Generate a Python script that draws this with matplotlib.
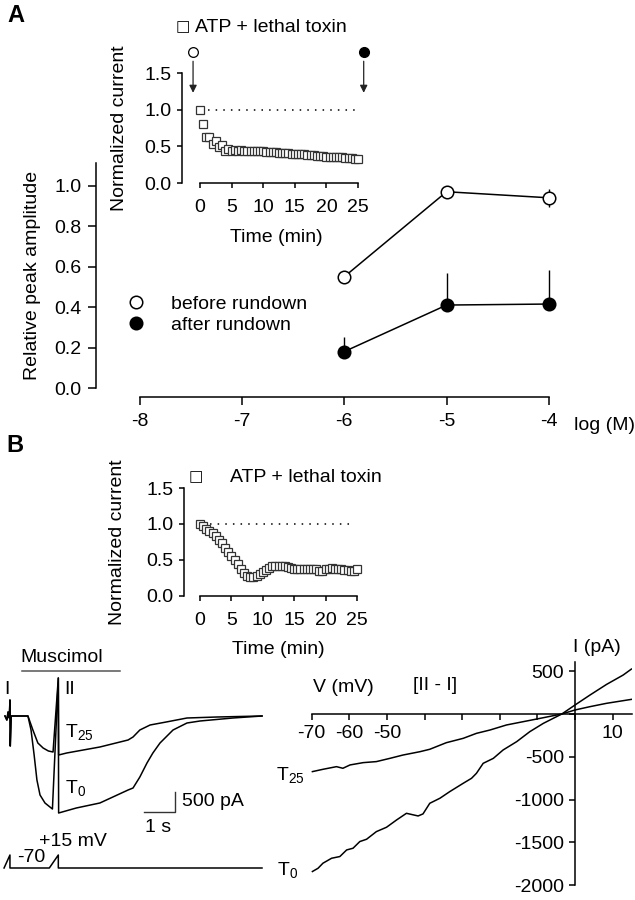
import matplotlib
matplotlib.use("Agg")
import matplotlib.pyplot as plt
from matplotlib.ticker import FormatStrFormatter

plt.rcParams["font.family"] = ["Liberation Sans", "DejaVu Sans"]
plt.rcParams["axes.unicode_minus"] = False
plt.rcParams["mathtext.fontset"] = "custom"
plt.rcParams["mathtext.rm"] = "Liberation Sans"
plt.rcParams["mathtext.default"] = "regular"

# Panel A: concentration dependence
log_conc = [-6, -5, -4]
before = [0.55, 0.97, 0.94]
before_err = [0.0, 0.0, 0.045]
after = [0.18, 0.41, 0.415]
after_err_up = [0.07, 0.16, 0.17]
conc_ticks = [-8, -7, -6, -5, -4]

# Insets: normalized current vs time (min)
time_min = [0, 0.5, 1, 1.5, 2, 2.5, 3, 3.5, 4, 4.5, 5, 5.5, 6, 6.5, 7, 7.5, 8, 8.5, 9, 9.5,
            10, 10.5, 11, 11.5, 12, 12.5, 13, 13.5, 14, 14.5, 15, 15.5, 16, 16.5, 17, 17.5,
            18, 18.5, 19, 19.5, 20, 20.5, 21, 21.5, 22, 22.5, 23, 23.5, 24, 24.5, 25]
a_norm = [1.00, 0.81, 0.63, 0.63, 0.53, 0.57, 0.49, 0.52, 0.43, 0.46, 0.44, 0.45, 0.44, 0.45,
          0.44, 0.44, 0.44, 0.43, 0.43, 0.43, 0.43, 0.42, 0.42, 0.42, 0.42, 0.41, 0.41, 0.41,
          0.41, 0.40, 0.40, 0.39, 0.39, 0.39, 0.38, 0.38, 0.38, 0.37, 0.37, 0.37, 0.36, 0.36,
          0.36, 0.35, 0.35, 0.35, 0.34, 0.34, 0.34, 0.33, 0.33]
a_err = [0, 0, 0, 0, 0, 0, 0, 0, 0.01, 0.01, 0.02, 0.02, 0.02, 0.02, 0.03, 0.03, 0.03, 0.03,
         0.03, 0.03, 0.03, 0.03, 0.03, 0.04, 0.04, 0.04, 0.04, 0.04, 0.04, 0.04, 0.04, 0.04,
         0.04, 0.04, 0.04, 0.04, 0.04, 0.04, 0.04, 0.04, 0.04, 0.04, 0.04, 0.04, 0.04, 0.04,
         0.04, 0.04, 0.04, 0.04, 0.04]
b_norm = [1.00, 0.97, 0.93, 0.90, 0.87, 0.83, 0.78, 0.73, 0.67, 0.61, 0.56, 0.50, 0.44, 0.37,
          0.32, 0.28, 0.26, 0.26, 0.28, 0.31, 0.34, 0.36, 0.39, 0.41, 0.42, 0.42, 0.42, 0.41,
          0.40, 0.39, 0.38, 0.38, 0.38, 0.38, 0.38, 0.37, 0.37, 0.37, 0.35, 0.35, 0.37, 0.38,
          0.39, 0.38, 0.38, 0.37, 0.36, 0.36, 0.35, 0.35, 0.37]
b_err = [0, 0, 0, 0, 0, 0, 0, 0, 0, 0, 0, 0, 0, 0, 0, 0, 0, 0, 0, 0.01, 0.02, 0.03, 0.03,
         0.04, 0.04, 0.04, 0.04, 0.03, 0.03, 0.03, 0.03, 0.03, 0.03, 0.04, 0.04, 0.04, 0.04,
         0.05, 0.05, 0.05, 0.05, 0.05, 0.05, 0.05, 0.05, 0.05, 0.05, 0.06, 0.06, 0.06, 0.06]
time_ticks = [0, 5, 10, 15, 20, 25]
arrow_times = [-1.1, 25.9]

# Current traces (s, pA)
t0_t = [0.0, 0.06, 0.1, 0.14, 0.16, 0.17, 0.2, 0.74, 0.84, 0.94, 1.03, 1.13, 1.29, 1.45, 1.53,
        1.72, 1.73, 2.3, 3.06, 3.97, 4.13, 4.35, 4.58, 4.77, 5.0, 5.42, 5.87, 6.29, 7.35, 8.29]
t0_i = [0, -100, 100, -50, 400, -750, 0, 0, -350, -975, -1600, -1975, -2175, -2275, -2325,
        950, -2425, -2300, -2175, -1850, -1800, -1525, -1175, -925, -675, -350, -175, -125,
        -50, 0]
t25_t = [0.0, 0.06, 0.1, 0.14, 0.16, 0.17, 0.2, 0.74, 0.9, 1.06, 1.23, 1.4, 1.55, 1.72, 1.73,
         1.99, 3.06, 3.97, 4.13, 4.35, 4.68, 5.2, 5.87, 6.84, 8.29]
t25_i = [0, -100, 100, -50, 400, -750, 0, 0, -350, -675, -800, -875, -900, 950, -975, -925,
         -775, -600, -525, -350, -225, -150, -50, -25, 0]
muscimol = [0.55, 3.71]
bar_1s = 1.0
bar_500pa = 500

# Voltage protocol (s, mV)
prot_t = [-0.03, 0.16, 0.16, 1.43, 1.72, 1.72, 8.29]
prot_v = [-70, 15, -70, -70, 15, -70, -70]

# I-V curves (mV, pA)
iv_t0_v = [-69.8, -68.3, -67.0, -64.7, -62.5, -60.7, -59.0, -57.2, -55.4, -52.8, -50.1, -47.4,
           -44.8, -41.7, -40.4, -38.6, -35.9, -33.3, -29.7, -27.5, -26.2, -24.4, -21.7, -19.1,
           -15.5, -12.0, -8.4, -5.8, -3.5, 0.0, 4.0, 8.4, 12.8, 15.0]
iv_t0_i = [-1840, -1802, -1743, -1685, -1665, -1588, -1568, -1490, -1463, -1374, -1323, -1237,
           -1160, -1191, -1167, -1043, -984, -907, -809, -751, -693, -576, -518, -420, -323,
           -206, -109, -51, 0, 105, 222, 346, 455, 525]
iv_t25_v = [-69.8, -67.0, -63.4, -61.7, -59.8, -56.3, -52.8, -49.2, -45.7, -41.2, -38.6, -34.2,
            -29.7, -26.2, -22.6, -18.2, -13.7, -9.3, -4.9, -3.5, 0.0, 4.0, 8.4, 15.0]
iv_t25_i = [-673, -646, -615, -634, -595, -568, -556, -518, -479, -440, -412, -335, -284, -226,
            -187, -128, -89, -51, -12, 0, 47, 86, 125, 171]
iv_vticks = [-70, -60, -50, -40, -30, -20, -10, 0, 10]
iv_vlabels = ["-70", "-60", "-50", "", "", "", "", "", "10"]
iv_iticks = [-2000, -1500, -1000, -500, 0, 500]
iv_ilabels = ["-2000", "-1500", "-1000", "-500", "", "500"]

W, H = 635, 900
FS = 14
fig = plt.figure(figsize=(W / 100, H / 100), dpi=100)


def box(l, t, r, b):
    return [l / W, 1 - b / H, (r - l) / W, (b - t) / H]


def put(x, y, s, **kw):
    kw.setdefault("fontsize", FS)
    kw.setdefault("ha", "center")
    kw.setdefault("va", "center")
    fig.text(x / W, 1 - y / H, s, **kw)


def clean(ax):
    ax.patch.set_visible(False)
    ax.spines["top"].set_visible(False)
    ax.spines["right"].set_visible(False)
    for s in ax.spines.values():
        s.set_linewidth(1.1)


# ---- Panel A main ----
ax = fig.add_axes(box(96, 163, 605, 397))
clean(ax)
ax.set_xlim(-8.425, -3.453)
ax.set_ylim(-0.0444, 1.112)
ax.spines["left"].set_bounds(0, 1.112)
ax.spines["bottom"].set_bounds(-8, -4)
ax.set_xticks(conc_ticks)
ax.set_yticks([0, 0.2, 0.4, 0.6, 0.8, 1.0])
ax.yaxis.set_major_formatter(FormatStrFormatter("%.1f"))
ax.tick_params(axis="both", direction="out", length=5.5, width=1.1, labelsize=FS)
ax.tick_params(axis="x", pad=6)
ax.tick_params(axis="y", pad=5)
ax.errorbar(log_conc, before, yerr=before_err, fmt="none", ecolor="k", elinewidth=1,
            capsize=0, clip_on=False, zorder=2)
ax.errorbar(log_conc, after, yerr=[[0, 0, 0], after_err_up], fmt="none", ecolor="k",
            elinewidth=1, capsize=0, clip_on=False, zorder=2)
ax.plot(log_conc, before, "-", color="k", lw=1.1, zorder=2)
ax.plot(log_conc, after, "-", color="k", lw=1.1, zorder=2)
ax.plot(log_conc, before, "o", ms=9, mfc="white", mec="k", mew=1.1,
        label="before rundown", clip_on=False, zorder=3)
ax.plot(log_conc, after, "o", ms=9, mfc="k", mec="k", mew=1.1,
        label="after rundown", clip_on=False, zorder=3)
ax.legend(loc="upper left", bbox_to_anchor=(126 / W, 1 - 295 / H),
          bbox_transform=fig.transFigure, frameon=False, fontsize=FS,
          handlelength=1.0, handletextpad=1.3, labelspacing=0.2, borderpad=0,
          borderaxespad=0)
put(33, 275, "Relative peak amplitude", rotation=90)
put(604, 425, "log (M)")
put(16, 15, "A", fontsize=17, fontweight="bold")


def inset(rect, xl, vals, errs):
    a = fig.add_axes(rect)
    clean(a)
    a.set_xlim(*xl)
    a.set_ylim(0, 1.5)
    a.spines["bottom"].set_bounds(0, 25)
    a.set_xticks(time_ticks)
    a.set_yticks([0, 0.5, 1.0, 1.5])
    a.yaxis.set_major_formatter(FormatStrFormatter("%.1f"))
    a.tick_params(axis="both", direction="out", length=3.5, width=1.1, labelsize=FS)
    a.tick_params(axis="x", pad=8)
    a.tick_params(axis="y", pad=4)
    a.axhline(1.0, xmin=0.14, xmax=0.93, color="k", lw=1.1, ls=(0, (1, 4)))
    a.errorbar(time_min, vals, yerr=[[0] * len(errs), errs], fmt="s", ms=5.5,
               mfc="white", mec="#333333", mew=0.9, ecolor="#444444", elinewidth=0.8,
               capsize=0, clip_on=False)
    return a


# ---- Panel A inset ----
axi = inset(box(182, 73, 368, 183), (-2.85, 26.58), a_norm, a_err)
axi.plot(arrow_times[0], 1.79, "o", ms=7, mfc="white", mec="k", mew=0.9, clip_on=False)
axi.plot(arrow_times[1], 1.79, "o", ms=7, mfc="k", mec="k", clip_on=False)
for at in arrow_times:
    axi.annotate("", xy=(at, 1.23), xytext=(at, 1.66),
                 arrowprops=dict(arrowstyle="-|>", color="#222222", lw=0.9,
                                 mutation_scale=11, shrinkA=0, shrinkB=0),
                 annotation_clip=False)
put(183, 27, "\u25a1", fontsize=11, family=["DejaVu Sans"])
put(195, 27, "ATP + lethal toxin", ha="left")
put(120, 128, "Normalized current", rotation=90)
put(276, 237, "Time (min)")

# ---- Panel B inset ----
bxi = inset(box(184, 488, 368, 596), (-2.55, 26.75), b_norm, b_err)
put(196, 477, "\u25a1", fontsize=11, family=["DejaVu Sans"])
put(230, 478, "ATP + lethal toxin", ha="left")
put(118, 542, "Normalized current", rotation=90)
put(278, 650, "Time (min)")
put(15, 446, "B", fontsize=17, fontweight="bold")

# ---- Current traces ----
tr = fig.add_axes(box(0, 640, 270, 845))
tr.set_axis_off()
tr.set_xlim(-0.161, 8.548)
tr.set_ylim(-3225, 1900)
tr.plot(t25_t, t25_i, color="k", lw=1.1)
tr.plot(t0_t, t0_i, color="k", lw=1.1)
tr.plot(muscimol, [1125, 1125], color="#555555", lw=1.1)
tr.plot([5.48, 5.48, 5.48 - bar_1s], [-2400 + bar_500pa, -2400, -2400], color="#333333", lw=1)
put(62, 658, "Muscimol")
put(7, 690, "I")
put(70, 690, "II")
put(65, 732, "T$_{25}$", ha="left")
put(65, 788, "T$_0$", ha="left")
put(182, 802, "500 pA", ha="left")
put(158, 827, "1 s")

# ---- Voltage protocol ----
pr = fig.add_axes(box(0, 830, 270, 880))
pr.set_axis_off()
pr.set_xlim(-0.161, 8.548)
pr.set_ylim(-148.5, 178.5)
pr.plot(prot_t, prot_v, color="k", lw=1.1)
put(73, 842, "+15 mV")
put(31, 858, "-70")

# ---- I-V plot ----
iv = fig.add_axes(box(300, 660, 632, 890))
clean(iv)
iv.set_xlim(-73.1, 15.16)
iv.set_ylim(-2056, 631)
iv.spines["left"].set_position(("data", 0))
iv.spines["bottom"].set_position(("data", 0))
iv.spines["left"].set_bounds(-2000, 607)
iv.spines["bottom"].set_bounds(-70, 15.16)
iv.set_xticks(iv_vticks)
iv.set_xticklabels(iv_vlabels)
iv.set_yticks(iv_iticks)
iv.set_yticklabels(iv_ilabels)
iv.tick_params(axis="both", direction="out", length=4, width=1.1, labelsize=FS)
iv.tick_params(axis="x", pad=4)
iv.tick_params(axis="y", pad=4)
iv.plot(iv_t25_v, iv_t25_i, color="k", lw=1.1)
iv.plot(iv_t0_v, iv_t0_i, color="k", lw=1.1)
put(597, 647, "I (pA)")
put(343, 688, "V (mV)")
put(435, 685, "[II - I]")
put(305, 775, "T$_{25}$", ha="right")
put(298, 870, "T$_0$", ha="right")

fig.savefig("out.png", dpi=100, facecolor="white")
